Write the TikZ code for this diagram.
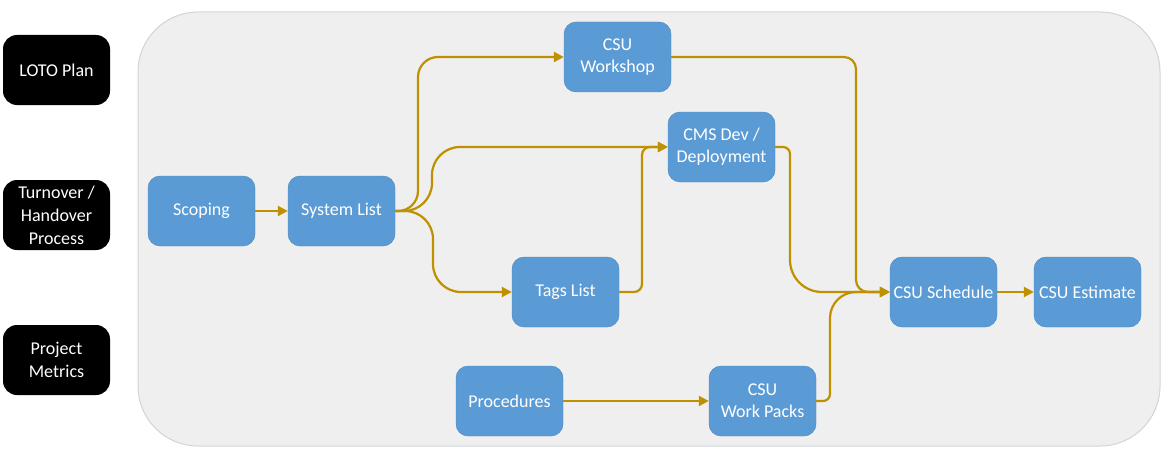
\documentclass[tikz,border=0pt]{standalone}
\usepackage{fontspec}
\setmainfont{Carlito}
\usetikzlibrary{arrows.meta}
\definecolor{boxblue}{HTML}{5B9BD5}
\definecolor{gold}{HTML}{BF9000}
\definecolor{panel}{HTML}{EFEFEF}
\definecolor{panelline}{HTML}{CDD5DD}
\tikzset{
  stepbox/.style={draw=boxblue!85!black, line width=0.4pt, fill=boxblue, rounded corners=12pt,
    minimum width=107pt, minimum height=70pt, text=white, font=\fontsize{18}{22}\selectfont,
    align=center, inner sep=2pt},
  sidebox/.style={fill=black, rounded corners=14pt, minimum width=107pt, minimum height=70pt,
    text=white, font=\fontsize{18}{23}\selectfont, align=center, inner sep=2pt},
  flow/.style={draw=gold, line width=2.2pt, -{Triangle[length=10pt,width=10pt]}},
}
\begin{document}
\begin{tikzpicture}[x=1pt,y=-1pt]
\useasboundingbox (0,0) rectangle (1165,452);
\node[draw=panelline, line width=1pt, fill=panel, rounded corners=60pt, minimum width=1022pt, minimum height=434pt, inner sep=0pt] (panel) at (649,229) {};
% side boxes
\node[sidebox] (loto) at (56.5,70) {LOTO Plan};
\node[sidebox] (turn) at (56.5,215) {Turnover /\\Handover\\Process};
\node[sidebox] (metrics) at (56.5,360) {Project\\Metrics};
% process boxes
\node[stepbox] (scop) at (201.5,211) {Scoping};
\node[stepbox] (sys) at (341.5,211) {System List};
\node[stepbox] (ws) at (617.5,57) {CSU\\Workshop};
\node[stepbox] (cms) at (721.5,147) {CMS Dev /\\Deployment};
\node[stepbox] (tags) at (565.5,292) {Tags List};
\node[stepbox] (proc) at (509.5,401) {Procedures};
\node[stepbox] (wp) at (762.5,401) {CSU\\Work Packs};
\node[stepbox] (sched) at (943.5,292) {CSU Schedule};
\node[stepbox] (est) at (1087.5,292) {CSU Estimate};
% junction coordinates
\coordinate (jws) at (418,211);
\coordinate (jcms) at (432,211);
\coordinate (jtags) at (433,211);
\coordinate (jtc) at (642,292);
\coordinate (jwss) at (856,57);
\coordinate (jcmss) at (790,147);
\coordinate (jcmsb) at (790,292);
\coordinate (jwps) at (830,401);
\coordinate (jwpt) at (830,292);
% connectors
\draw[flow] (scop) -- (sys);
\draw[flow, rounded corners=20pt] (sys.east) -- (jws) |- (ws.west);
\draw[flow, rounded corners=28pt] (sys.east) -- (jcms) |- (cms.west);
\draw[flow, rounded corners=28pt] (sys.east) -- (jtags) |- (tags.west);
\draw[flow, rounded corners=8pt] (tags.east) -- (jtc) |- (cms.west);
\draw[flow, rounded corners=12pt] (ws.east) -- (jwss) |- (sched.west);
\draw[flow] (cms.east) [rounded corners=7pt] -- (jcmss) [rounded corners=32pt] -- (jcmsb) -- (sched.west);
\draw[flow] (wp.east) [rounded corners=7pt] -- (jwps) [rounded corners=26pt] -- (jwpt) -- (sched.west);
\draw[flow] (proc) -- (wp);
\draw[flow] (sched) -- (est);
\end{tikzpicture}
\end{document}
